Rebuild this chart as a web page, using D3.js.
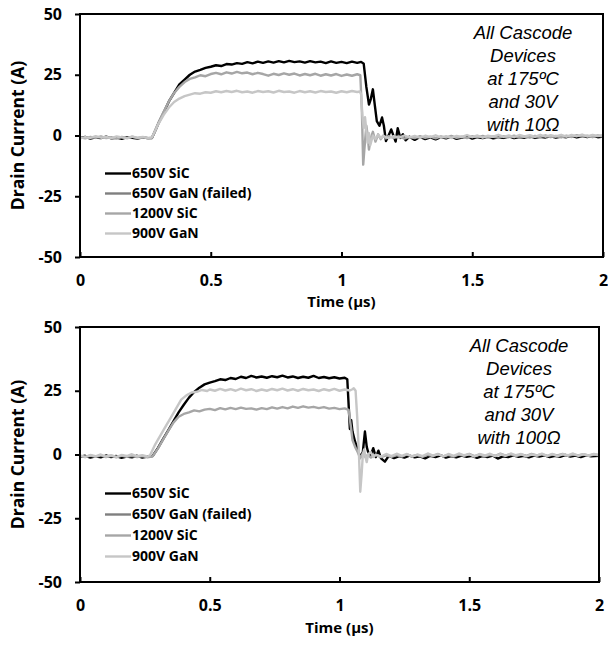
<!DOCTYPE html>
<html lang='en'>
  <head>
    <meta charset='utf-8'>
    <style type='text/css'>
      body {margin: 0; background-color: #fff;}
      svg {display: block;}
      .tick text {font-family: 'Open Sans', sans-serif; font-weight: bold; font-size: 16px; fill: #000;}
    </style>
  </head>
  <body>
    <svg id='chart' width='608' height='645'></svg>

    <script src='https://d3js.org/d3.v7.min.js'></script>
    <script type='text/javascript'>
        // ---- data (time in us, current in A) ----
        var timeTicks = [0, 0.5, 1, 1.5, 2];
        var currentTicks = [-50, -25, 0, 25, 50];
        var seriesNames = ["650V SiC", "650V GaN (failed)", "1200V SiC", "900V GaN"];
        var noteTop = ["All Cascode", "Devices", "at 175\u00baC", "and 30V", "with 10\u03a9"];
        var noteBottom = ["All Cascode", "Devices", "at 175\u00baC", "and 30V", "with 100\u03a9"];

        // 10 ohm gate resistor
        var sic650_10 = [[0,-1.0],[0.02,-0.6],[0.04,-1.3],[0.06,-0.8],[0.08,-1.1],[0.1,-0.5],[0.12,-1.2],[0.14,-0.9],[0.16,-1.4],[0.18,-0.7],[0.2,-1.0],[0.22,-1.3],[0.24,-0.8],[0.26,-1.1],[0.275,-1.0],
          [0.29,2.5],[0.3,5],[0.32,9.5],[0.34,14],[0.36,17.5],[0.38,21],[0.4,23],[0.42,25],[0.44,26.3],[0.46,27],[0.48,27.8],[0.5,28.3],[0.52,28.9],[0.54,28.6],[0.56,29.4],[0.58,29.2],[0.6,29.8],[0.62,29.5],[0.64,30.2],[0.66,29.7],[0.68,30.4],[0.7,29.9],[0.72,30.5],[0.74,30.0],[0.76,30.6],[0.78,30.1],[0.8,30.7],[0.82,30.2],[0.84,30.5],[0.86,30.0],[0.88,30.6],[0.9,30.1],[0.92,30.4],[0.94,29.8],[0.96,30.5],[0.98,29.9],[1.0,30.3],[1.02,29.8],[1.04,30.4],[1.06,29.9],[1.075,30.3],[1.085,29.5],
          [1.095,20],[1.105,12.7],[1.112,15],[1.12,19],[1.128,12],[1.135,5.9],[1.145,4],[1.155,7.4],[1.162,4],[1.17,-2.3],[1.18,0],[1.19,2.5],[1.2,-0.5],[1.207,-2.5],[1.215,3],[1.225,-1],[1.235,0.5],[1.245,-2],[1.26,-0.5],[1.28,-1.8],[1.3,-0.6],[1.32,-1.5],[1.34,-0.8],[1.36,-1.6],[1.38,-0.7],[1.4,-1.2],[1.42,-0.5],[1.44,-1.4],[1.46,-0.9],[1.48,-0.4],[1.5,-1.3],[1.52,-0.7],[1.54,-1.1],[1.56,-0.5],[1.58,-1.2],[1.6,-0.8],[1.62,-1.0],[1.64,-0.4],[1.66,-1.1],[1.68,-0.6],[1.7,-0.9],[1.72,-0.3],[1.74,-1.0],[1.76,-0.5],[1.78,-0.8],[1.8,-0.3],[1.82,-0.9],[1.84,-0.4],[1.86,-0.7],[1.88,-0.2],[1.9,-0.8],[1.92,-0.3],[1.94,-0.6],[1.96,-0.1],[1.98,-0.7],[2.0,-0.4]];
        var ganFailed_10 = []; // no trace visible for the failed device
        var sic1200_10 = [[0,-0.8],[0.02,-1.2],[0.04,-0.6],[0.06,-1.0],[0.08,-0.4],[0.1,-1.1],[0.12,-0.7],[0.14,-1.3],[0.16,-0.6],[0.18,-1.0],[0.2,-0.5],[0.22,-1.1],[0.24,-0.7],[0.26,-1.2],[0.275,-0.9],
          [0.29,2.8],[0.3,5.2],[0.32,9.8],[0.34,14],[0.36,17.5],[0.38,20],[0.4,22],[0.42,23.3],[0.44,23.9],[0.46,24.8],[0.48,24.4],[0.5,25.3],[0.52,25.8],[0.54,25.2],[0.56,26],[0.58,25.5],[0.6,26.2],[0.62,25.6],[0.64,25.9],[0.66,25.2],[0.68,25.8],[0.7,25.3],[0.72,24.6],[0.74,25.4],[0.76,24.9],[0.78,25.6],[0.8,25.0],[0.82,25.5],[0.84,24.7],[0.86,25.3],[0.88,24.8],[0.9,25.4],[0.92,24.6],[0.94,25.2],[0.96,24.7],[0.98,25.3],[1.0,24.5],[1.02,25.1],[1.04,24.6],[1.06,25.2],[1.072,24.8],
          [1.078,10],[1.083,-12],[1.088,-5],[1.095,4],[1.1,0],[1.105,-5.8],[1.112,-1],[1.12,1.5],[1.13,-2.5],[1.14,0.5],[1.15,-1.5],[1.16,0],[1.17,-1.2],[1.18,-0.3],[1.2,-1.0],
          [1.22,-0.4],[1.24,-1.3],[1.26,-0.6],[1.28,-1.1],[1.3,-0.3],[1.32,-1.0],[1.34,-0.5],[1.36,-1.2],[1.38,-0.4],[1.4,-0.9],[1.42,-0.2],[1.44,-1.0],[1.46,-0.5],[1.48,-1.1],[1.5,-0.3],[1.52,-0.8],[1.54,-0.2],[1.56,-0.9],[1.58,-0.4],[1.6,-1.0],[1.62,-0.3],[1.64,-0.7],[1.66,-0.1],[1.68,-0.8],[1.7,-0.4],[1.72,-0.9],[1.74,-0.2],[1.76,-0.6],[1.78,0],[1.8,-0.7],[1.82,-0.2],[1.84,-0.8],[1.86,-0.1],[1.88,-0.6],[1.9,0.1],[1.92,-0.5],[1.94,-0.1],[1.96,-0.7],[1.98,0],[2,-0.4]];
        var gan900_10 = [[0,-1.2],[0.02,-0.7],[0.04,-1.0],[0.06,-0.3],[0.08,-0.9],[0.1,-0.6],[0.12,-1.1],[0.14,-0.4],[0.16,-0.8],[0.18,-1.2],[0.2,-0.5],[0.22,-0.9],[0.24,-0.6],[0.26,-1.0],[0.275,-0.8],
          [0.29,2.5],[0.3,4.8],[0.32,8.5],[0.34,11.5],[0.36,13.8],[0.38,15.2],[0.4,16.2],[0.42,16.8],[0.44,17.4],[0.46,17.2],[0.48,17.8],[0.5,17.6],[0.52,18.2],[0.54,17.8],[0.56,18.3],[0.58,17.9],[0.6,18.4],[0.62,17.8],[0.64,18.1],[0.66,17.6],[0.68,18.3],[0.7,17.9],[0.72,18.2],[0.74,17.7],[0.76,18.4],[0.78,17.9],[0.8,18.1],[0.82,17.6],[0.84,18.3],[0.86,17.8],[0.88,18.2],[0.9,17.7],[0.92,18.3],[0.94,17.9],[0.96,18.1],[0.98,17.6],[1.0,18.2],[1.02,17.8],[1.04,18.3],[1.06,17.9],[1.07,18.1],
          [1.075,17],[1.08,8],[1.085,3],[1.09,7.5],[1.095,2],[1.1,-3],[1.105,1],[1.11,-4],[1.12,0],[1.13,-1.5],[1.14,0.3],[1.15,-1],[1.16,-0.2],[1.18,-1.1],[1.2,-0.3],
          [1.22,-0.9],[1.24,0],[1.26,-0.8],[1.28,-0.2],[1.3,-1.0],[1.32,-0.1],[1.34,-0.7],[1.36,0.1],[1.38,-0.9],[1.4,-0.3],[1.42,-1.0],[1.44,-0.2],[1.46,-0.6],[1.48,0.2],[1.5,-0.7],[1.52,0],[1.54,-0.9],[1.56,-0.1],[1.58,-0.5],[1.6,0.3],[1.62,-0.6],[1.64,0],[1.66,-0.7],[1.68,0.2],[1.7,-0.4],[1.72,0.1],[1.74,-0.6],[1.76,0.3],[1.78,-0.5],[1.8,0.1],[1.82,-0.4],[1.84,0.3],[1.86,-0.5],[1.88,0.2],[1.9,-0.3],[1.92,0.4],[1.94,-0.4],[1.96,0.2],[1.98,-0.2],[2,0.1]];

        // 100 ohm gate resistor
        var sic650_100 = [[0,-0.9],[0.02,-0.5],[0.04,-1.2],[0.06,-0.7],[0.08,-1.1],[0.1,-0.4],[0.12,-1.0],[0.14,-0.6],[0.16,-1.3],[0.18,-0.8],[0.2,-1.1],[0.22,-0.5],[0.24,-1.2],[0.26,-0.8],[0.28,-0.6],
          [0.3,2.5],[0.32,6],[0.34,9.5],[0.36,13],[0.38,16.5],[0.4,19.5],[0.42,22.3],[0.44,24.5],[0.46,26.2],[0.48,27.5],[0.5,28.2],[0.52,28.8],[0.54,29.5],[0.56,29.2],[0.58,30],[0.6,29.6],[0.62,30.5],[0.64,30.0],[0.66,30.8],[0.68,30.2],[0.7,30.6],[0.72,30.1],[0.74,30.7],[0.76,30.3],[0.78,30.9],[0.8,30.2],[0.82,30.6],[0.84,30.0],[0.86,30.5],[0.88,30.1],[0.9,30.8],[0.92,30.0],[0.94,30.4],[0.96,29.9],[0.98,30.3],[1.0,29.8],[1.02,30.1],[1.03,29.5],
          [1.036,18],[1.04,10],[1.045,13.5],[1.05,9],[1.06,5],[1.07,2],[1.08,-1],[1.09,1],[1.098,9],[1.105,3],[1.11,1.1],[1.12,-0.5],[1.13,2.5],[1.14,-1],[1.15,1.5],[1.16,-1.5],[1.175,-2.8],[1.19,-0.5],
          [1.21,-1.4],[1.23,-0.6],[1.25,-1.2],[1.27,-0.4],[1.29,-1.1],[1.31,-0.7],[1.33,-1.5],[1.35,-0.5],[1.37,-1.0],[1.39,-0.3],[1.41,-1.2],[1.43,-0.6],[1.45,-1.1],[1.47,-0.4],[1.49,-0.9],[1.51,-0.5],[1.53,-1.3],[1.55,-0.6],[1.57,-1.0],[1.59,-0.4],[1.61,-1.6],[1.63,-0.7],[1.65,-1.0],[1.67,-0.3],[1.69,-0.9],[1.71,-0.5],[1.73,-1.1],[1.75,-0.4],[1.77,-0.8],[1.79,-0.3],[1.81,-1.0],[1.83,-0.5],[1.85,-0.9],[1.87,-0.2],[1.89,-0.8],[1.91,-0.4],[1.93,-1.0],[1.95,-0.3],[1.97,-0.7],[2,-0.5]];
        var ganFailed_100 = []; // no trace visible for the failed device
        var sic1200_100 = [[0,-0.6],[0.02,-1.0],[0.04,-0.4],[0.06,-0.9],[0.08,-0.3],[0.1,-1.0],[0.12,-0.5],[0.14,-1.1],[0.16,-0.4],[0.18,-0.9],[0.2,-0.5],[0.22,-1.0],[0.24,-0.6],[0.26,-1.1],[0.28,-0.7],
          [0.3,2.3],[0.32,5.8],[0.34,9.3],[0.36,12.5],[0.38,14.8],[0.4,15.9],[0.42,16.5],[0.44,17.3],[0.46,16.9],[0.48,17.6],[0.5,17.9],[0.52,17.4],[0.54,18.2],[0.56,17.7],[0.58,18.3],[0.6,17.8],[0.62,18.4],[0.64,17.9],[0.66,18.1],[0.68,17.6],[0.7,18.2],[0.72,17.8],[0.74,18.5],[0.76,18.0],[0.78,18.6],[0.8,18.1],[0.82,18.8],[0.84,18.3],[0.86,18.9],[0.88,18.4],[0.9,18.7],[0.92,18.2],[0.94,18.6],[0.96,18.0],[0.98,18.3],[1.0,17.8],[1.02,18.1],[1.03,17.7],
          [1.035,17.5],[1.045,10],[1.05,5.7],[1.06,3],[1.07,1],[1.08,-1.5],[1.09,0.5],[1.1,-1],[1.11,0],[1.12,-1.2],[1.14,-0.2],[1.16,-1.0],[1.18,-0.3],[1.2,-0.9],
          [1.22,-0.2],[1.24,-0.8],[1.26,0],[1.28,-0.7],[1.3,-0.2],[1.32,-0.9],[1.34,-0.1],[1.36,-0.6],[1.38,0.2],[1.4,-0.7],[1.42,-0.1],[1.44,-0.8],[1.46,0],[1.48,-0.5],[1.5,0.2],[1.52,-0.6],[1.54,0],[1.56,-0.7],[1.58,-0.1],[1.6,-0.5],[1.62,0.3],[1.64,-0.4],[1.66,0.1],[1.68,-0.6],[1.7,0],[1.72,-0.5],[1.74,0.2],[1.76,-0.4],[1.78,0.1],[1.8,-0.6],[1.82,0],[1.84,-0.4],[1.86,0.2],[1.88,-0.5],[1.9,0],[1.92,-0.4],[1.94,0.1],[1.96,-0.5],[1.98,0],[2,-0.3]];
        var gan900_100 = [[0,-0.4],[0.02,-0.9],[0.04,-0.2],[0.06,-0.7],[0.08,0],[0.1,-0.8],[0.12,-0.3],[0.14,-0.9],[0.16,-0.2],[0.18,-0.6],[0.2,0.1],[0.22,-0.7],[0.24,-0.3],[0.26,-0.8],[0.27,-0.3],
          [0.29,4],[0.31,7.5],[0.33,11],[0.35,14.5],[0.37,18],[0.39,21.5],[0.41,23.2],[0.43,24.3],[0.45,24.6],[0.47,25.3],[0.49,24.9],[0.5,25.5],[0.52,25.0],[0.54,25.7],[0.56,25.1],[0.58,25.6],[0.6,25.0],[0.62,25.8],[0.64,25.2],[0.66,25.6],[0.68,24.9],[0.7,25.5],[0.72,25.0],[0.74,25.7],[0.76,25.2],[0.78,25.8],[0.8,25.1],[0.82,25.6],[0.84,25.0],[0.86,25.7],[0.88,25.2],[0.9,25.5],[0.92,24.9],[0.94,25.6],[0.96,25.1],[0.98,25.7],[1.0,25.0],[1.02,25.5],[1.04,25.1],[1.05,25.6],
          [1.055,26],[1.062,25],[1.068,15],[1.075,0],[1.08,-14.6],[1.085,-8],[1.09,0],[1.095,2],[1.1,-1],[1.105,-3],[1.11,0],[1.12,1],[1.13,-1],[1.14,0],[1.16,-0.8],[1.18,0.2],[1.2,-0.6],
          [1.22,0.3],[1.24,-0.5],[1.26,0.2],[1.28,-0.8],[1.3,0],[1.32,-0.6],[1.34,0.4],[1.36,-0.4],[1.38,0.1],[1.4,-0.7],[1.42,0.2],[1.44,-0.5],[1.46,0.4],[1.48,-0.3],[1.5,0.1],[1.52,-0.8],[1.54,0.2],[1.56,-0.4],[1.58,0.3],[1.6,-0.6],[1.62,0.1],[1.64,-0.5],[1.66,0.4],[1.68,-0.3],[1.7,0.2],[1.72,-0.7],[1.74,0],[1.76,-0.4],[1.78,0.3],[1.8,-0.5],[1.82,0.2],[1.84,-0.6],[1.86,0.1],[1.88,-0.3],[1.9,0.4],[1.92,-0.5],[1.94,0.1],[1.96,-0.4],[1.98,0.2],[2,-0.2]];

        // ---- styles ----
        var seriesColors = ["#000000", "#7f7f7f", "#a6a6a6", "#c6c6c6"];
        var drawOrder = [0, 1, 2, 3];

        var panels = [
          {series: [sic650_10, ganFailed_10, sic1200_10, gan900_10], note: noteTop,
           left: 80, right: 603, top: 14, bottom: 257, tickY: 280, titleY: 302, legendY: 173.5, legendStep: 20},
          {series: [sic650_100, ganFailed_100, sic1200_100, gan900_100], note: noteBottom,
           left: 80, right: 599, top: 327, bottom: 582, tickY: 605, titleY: 628, legendY: 493.5, legendStep: 21}
        ];

        var svg = d3.select("#chart");

        panels.forEach(function(p) {
          var x = d3.scaleLinear().domain([0, 2]).range([p.left, p.right]);
          var y = d3.scaleLinear().domain([-50, 50]).range([p.bottom, p.top]);
          var g = svg.append("g");

          var line = d3.line()
            .x(function(d) { return x(d[0]); })
            .y(function(d) { return y(d[1]); });

          // traces
          drawOrder.forEach(function(i) {
            if (!p.series[i].length) return;
            g.append("path")
              .datum(p.series[i])
              .attr("d", line)
              .attr("fill", "none")
              .attr("stroke", seriesColors[i])
              .attr("stroke-width", 2.4)
              .attr("stroke-linejoin", "round");
          });

          // axes
          var yAxis = g.append("g")
            .attr("transform", "translate(" + p.left + ",0)")
            .call(d3.axisLeft(y).tickValues(currentTicks).tickSize(5).tickSizeOuter(0).tickPadding(13)
              .tickFormat(function(d) { return String(d); }));
          yAxis.select(".domain").remove();
          yAxis.selectAll(".tick line").attr("stroke-width", 2);

          var xAxis = g.append("g")
            .attr("transform", "translate(0," + p.bottom + ")")
            .call(d3.axisBottom(x).tickValues(timeTicks).tickSize(-5).tickSizeOuter(0)
              .tickFormat(function(d) { return String(d); }));
          xAxis.select(".domain").remove();
          xAxis.selectAll(".tick line").attr("stroke-width", 2);
          xAxis.selectAll(".tick text").attr("y", p.tickY - p.bottom).attr("dy", "0.35em");

          // frame
          g.append("rect")
            .attr("x", p.left).attr("y", p.top)
            .attr("width", p.right - p.left).attr("height", p.bottom - p.top)
            .attr("fill", "none").attr("stroke", "#000").attr("stroke-width", 2);

          // axis titles
          g.append("text")
            .attr("transform", "translate(18," + (p.top + p.bottom) / 2 + ") rotate(-90)")
            .attr("text-anchor", "middle").attr("dy", "0.35em")
            .style("font-family", "'Open Sans', sans-serif").style("font-weight", "bold").style("font-size", "17.5px")
            .text("Drain Current (A)");

          g.append("text")
            .attr("x", (p.left + p.right) / 2).attr("y", p.titleY)
            .attr("text-anchor", "middle").attr("dy", "0.35em")
            .style("font-family", "'Open Sans', sans-serif").style("font-weight", "bold").style("font-size", "15px")
            .text("Time (\u00b5s)");

          // legend
          var leg = g.selectAll(".leg").data(seriesNames).enter().append("g")
            .attr("transform", function(d, i) { return "translate(105," + (p.legendY + i * p.legendStep) + ")"; });
          leg.append("line").attr("x1", 0).attr("x2", 26).attr("y1", 0).attr("y2", 0)
            .attr("stroke", function(d, i) { return seriesColors[i]; }).attr("stroke-width", 2.4);
          leg.append("text").attr("x", 27).attr("dy", "0.35em")
            .style("font-family", "'Open Sans', sans-serif").style("font-weight", "bold").style("font-size", "14px")
            .text(function(d) { return d; });

          // annotation
          g.append("g").selectAll("text").data(p.note).enter().append("text")
            .attr("x", p.right - 80)
            .attr("y", function(d, i) { return p.top + 19 + i * 23; })
            .attr("text-anchor", "middle").attr("dy", "0.35em")
            .style("font-family", "'Liberation Sans', Arial, sans-serif").style("font-style", "italic").style("font-size", "18.5px")
            .text(function(d) { return d; });
        });
    </script>
  </body>
</html>
